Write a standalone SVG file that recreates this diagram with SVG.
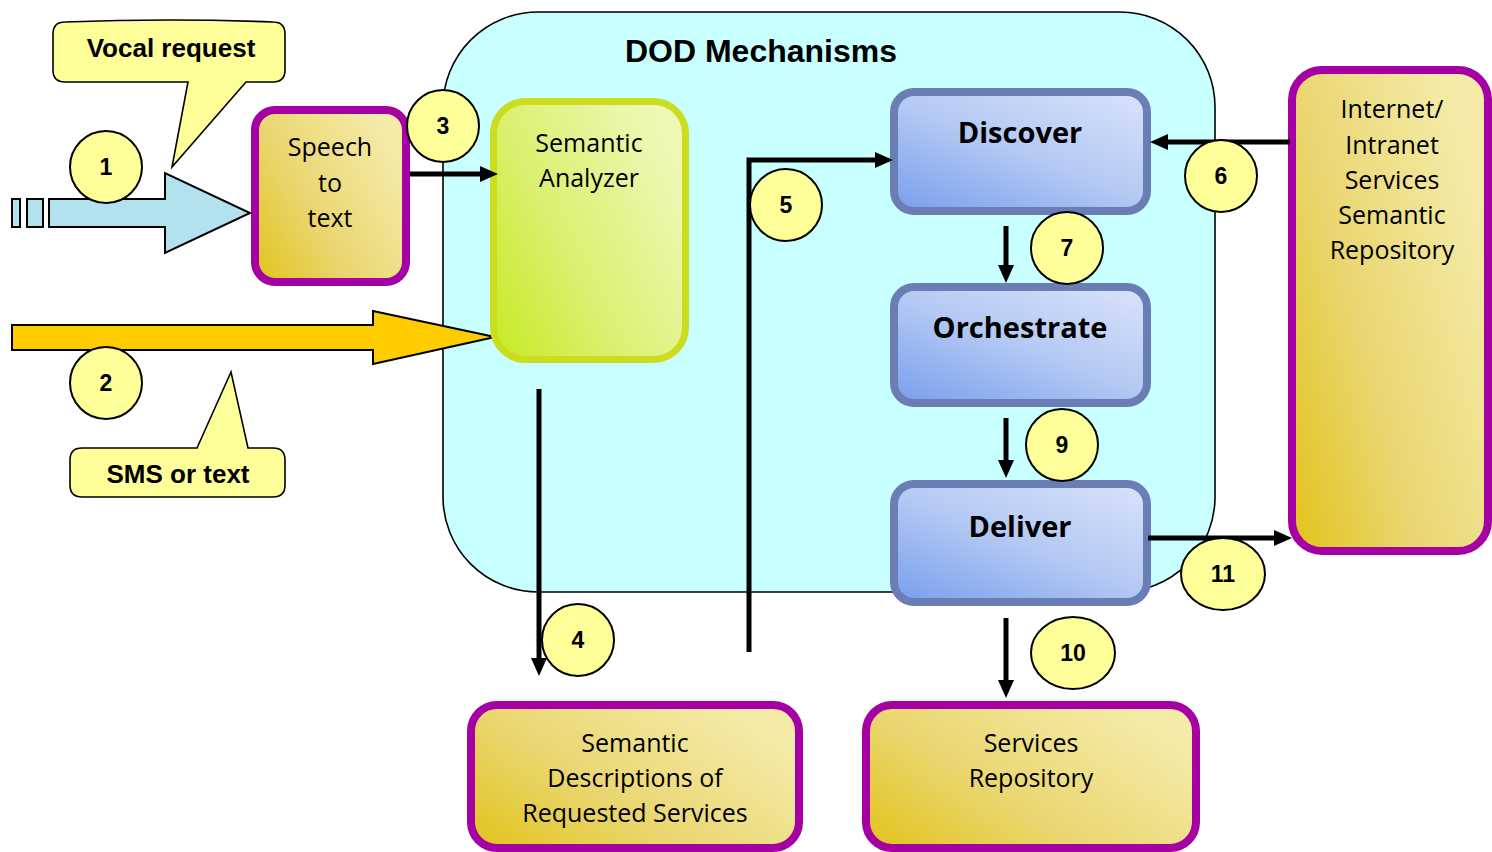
<svg xmlns="http://www.w3.org/2000/svg" width="1492" height="852" viewBox="0 0 1492 852">
  <defs>
    <linearGradient id="gGold" x1="0" y1="1" x2="1" y2="0.35">
      <stop offset="0" stop-color="#E2C31A"/>
      <stop offset="0.45" stop-color="#EAD670"/>
      <stop offset="1" stop-color="#F4EBA8"/>
    </linearGradient>
    <linearGradient id="gGreen" x1="0" y1="1" x2="1" y2="0.35">
      <stop offset="0" stop-color="#C6EA22"/>
      <stop offset="0.45" stop-color="#DAF06E"/>
      <stop offset="1" stop-color="#EEF8B4"/>
    </linearGradient>
    <linearGradient id="gBlue" x1="0.05" y1="1" x2="0.9" y2="0">
      <stop offset="0" stop-color="#7AA0EE"/>
      <stop offset="0.5" stop-color="#B3C8F3"/>
      <stop offset="1" stop-color="#D6E1FA"/>
    </linearGradient>
    <marker id="head" markerUnits="userSpaceOnUse" markerWidth="18" markerHeight="16" viewBox="0 0 18 16" refX="4" refY="8" orient="auto">
      <path d="M0,0 L18,8 L0,16 Z" fill="#000"/>
    </marker>
    <style>
      .gold { fill: url(#gGold); stroke: #A400A4; stroke-width: 8; }
      .green { fill: url(#gGreen); stroke: #CCDD1F; stroke-width: 7; }
      .blue { fill: url(#gBlue); stroke: #6A7DB4; stroke-width: 8; }
      .callout { fill: #FFFF99; stroke: #000; stroke-width: 1.6; }
      .num circle, .num ellipse { fill: #FFFF99; stroke: #000; stroke-width: 2; }
      .num text { font-family: "Liberation Sans", Arial, sans-serif; font-weight: bold; font-size: 23px; text-anchor: middle; fill: #000; }
      .lbl { font-family: "Open Sans", "Noto Sans", sans-serif; font-size: 25px; text-anchor: middle; fill: #000; }
      .blbl { font-family: "Open Sans", "Noto Sans", sans-serif; font-weight: bold; font-size: 29px; text-anchor: middle; fill: #000; }
      .ctxt { font-family: "Liberation Sans", Arial, sans-serif; font-weight: bold; font-size: 26px; text-anchor: middle; fill: #000; }
      .conn { fill: none; stroke: #000; stroke-width: 5; marker-end: url(#head); }
    </style>
  </defs>

  <rect width="1492" height="852" fill="#FFFFFF"/>

  <!-- DOD Mechanisms container -->
  <g id="dod-mechanisms">
    <rect x="443" y="12" width="772" height="580" rx="95" ry="95" fill="#C8FFFF" stroke="#000" stroke-width="1.6"/>
    <text x="761" y="62" font-family="'Liberation Sans', Arial, sans-serif" font-weight="bold" font-size="32" text-anchor="middle">DOD Mechanisms</text>
  </g>

  <!-- Input: vocal request -->
  <g id="vocal-request">
    <path class="callout" d="M65,22 Q170,18 273,22 Q285,22 285,34 V70 Q285,82 273,82 H246 L172,167 L188,82 H65 Q53,82 53,70 V34 Q53,22 65,22 Z"/>
    <text class="ctxt" x="171" y="57">Vocal request</text>
  </g>
  <g id="voice-arrow" fill="#B2E2EE" stroke="#000" stroke-width="2">
    <rect x="12" y="199" width="8" height="28"/>
    <rect x="27" y="199" width="16" height="28"/>
    <path d="M49,199 H165 V173 L250,213 L165,253 V227 H49 Z"/>
  </g>

  <!-- Input: SMS or text -->
  <g id="sms-arrow">
    <path d="M12,325 H373 V311 L495,337 L373,364 V350 H12 Z" fill="#FFCC00" stroke="#000" stroke-width="2"/>
  </g>
  <g id="sms-text">
    <path class="callout" d="M82,448 H197 L231,372 L248,448 H273 Q285,448 285,460 V485 Q285,497 273,497 H82 Q70,497 70,485 V460 Q70,448 82,448 Z"/>
    <text class="ctxt" x="178" y="483">SMS or text</text>
  </g>

  <!-- Speech to text -->
  <g id="speech-to-text">
    <rect class="gold" x="255" y="110" width="151" height="172" rx="20"/>
    <text class="lbl" x="330" y="156">Speech</text>
    <text class="lbl" x="330" y="192">to</text>
    <text class="lbl" x="330" y="227">text</text>
  </g>

  <!-- Semantic Analyzer -->
  <g id="semantic-analyzer">
    <rect class="green" x="493.5" y="101.5" width="192" height="258" rx="32"/>
    <text class="lbl" x="589" y="152">Semantic</text>
    <text class="lbl" x="589" y="187">Analyzer</text>
  </g>

  <!-- Discover / Orchestrate / Deliver -->
  <g id="discover">
    <rect class="blue" x="894" y="92" width="253" height="119" rx="20"/>
    <text class="blbl" x="1020" y="143">Discover</text>
  </g>
  <g id="orchestrate">
    <rect class="blue" x="894" y="287" width="253" height="116" rx="20"/>
    <text class="blbl" x="1020" y="338">Orchestrate</text>
  </g>
  <g id="deliver">
    <rect class="blue" x="894" y="484" width="253" height="118" rx="20"/>
    <text class="blbl" x="1020" y="537">Deliver</text>
  </g>

  <!-- Repositories -->
  <g id="semantic-repository">
    <rect class="gold" x="1292" y="70" width="196" height="481" rx="30"/>
    <text class="lbl" x="1392" y="118">Internet/</text>
    <text class="lbl" x="1392" y="154">Intranet</text>
    <text class="lbl" x="1392" y="189">Services</text>
    <text class="lbl" x="1392" y="224">Semantic</text>
    <text class="lbl" x="1392" y="259">Repository</text>
  </g>
  <g id="semantic-descriptions">
    <rect class="gold" x="471" y="705" width="328" height="143" rx="26"/>
    <text class="lbl" x="635" y="752">Semantic</text>
    <text class="lbl" x="635" y="787">Descriptions of</text>
    <text class="lbl" x="635" y="822">Requested Services</text>
  </g>
  <g id="services-repository">
    <rect class="gold" x="866" y="705" width="330" height="143" rx="26"/>
    <text class="lbl" x="1031" y="752">Services</text>
    <text class="lbl" x="1031" y="787">Repository</text>
  </g>

  <!-- Connectors -->
  <g id="connectors">
    <line class="conn" x1="410" y1="174" x2="484" y2="174"/>
    <line class="conn" x1="539" y1="389" x2="539" y2="662"/>
    <path class="conn" d="M749,652 V160 H879" stroke-linejoin="miter"/>
    <line class="conn" x1="1290" y1="142" x2="1164" y2="142"/>
    <line class="conn" x1="1006" y1="226" x2="1006" y2="269"/>
    <line class="conn" x1="1006" y1="418" x2="1006" y2="464"/>
    <line class="conn" x1="1006" y1="618" x2="1006" y2="684"/>
    <line class="conn" x1="1148" y1="538" x2="1278" y2="538"/>
  </g>

  <!-- Step numbers -->
  <g id="step-numbers" class="num">
    <g id="step-1"><circle cx="106" cy="167" r="36"/><text x="106" y="175">1</text></g>
    <g id="step-2"><circle cx="106" cy="383" r="36"/><text x="106" y="391">2</text></g>
    <g id="step-3"><circle cx="443" cy="126" r="36"/><text x="443" y="134">3</text></g>
    <g id="step-4"><circle cx="578" cy="640" r="36"/><text x="578" y="648">4</text></g>
    <g id="step-5"><circle cx="786" cy="205" r="36"/><text x="786" y="213">5</text></g>
    <g id="step-6"><circle cx="1221" cy="176" r="36"/><text x="1221" y="184">6</text></g>
    <g id="step-7"><circle cx="1067" cy="248" r="36"/><text x="1067" y="256">7</text></g>
    <g id="step-9"><circle cx="1062" cy="445" r="36"/><text x="1062" y="453">9</text></g>
    <g id="step-10"><ellipse cx="1073" cy="653" rx="42" ry="36"/><text x="1073" y="661">10</text></g>
    <g id="step-11"><ellipse cx="1223" cy="574" rx="42" ry="36"/><text x="1223" y="582">11</text></g>
  </g>
</svg>
